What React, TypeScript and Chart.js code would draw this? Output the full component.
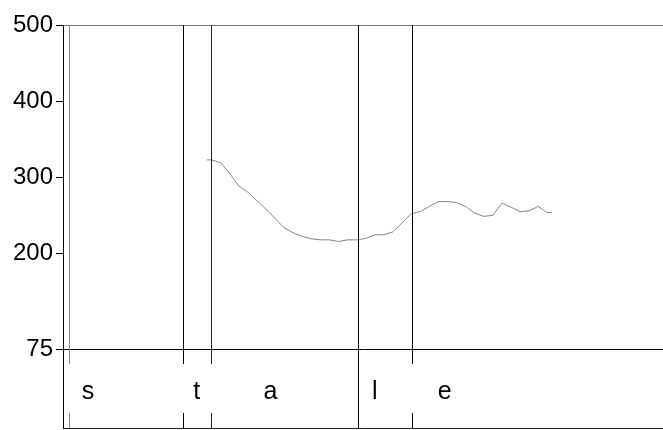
import React, { useEffect, useRef } from 'react';
import { Chart, registerables } from 'chart.js';

Chart.register(...registerables);

// x: period index (one step per observation)
const periods = [
  -0.5, 0, 1, 2, 3, 4, 5, 6, 7, 8, 9, 10, 11, 12, 13, 14, 15, 16, 17, 18, 19,
  20, 21, 22, 23, 24, 25, 26, 27, 28, 29, 30, 31, 32, 33, 34, 35, 36, 37, 37.5,
];
const values = [
  323, 323, 319.5, 305.6, 289, 280.7, 269.6, 258.5, 246.4, 234, 227.4, 222.8,
  219.5, 218.2, 218.2, 216, 218.2, 218.2, 220, 224.8, 224.8, 228.7, 240.5,
  252.3, 255.3, 261.9, 268.4, 268.4, 267.1, 261.9, 253.3, 249, 250.3, 266.3,
  261.1, 255.3, 256.2, 262.1, 254, 254,
];
const yTickValues = [500, 400, 300, 200, 75];
const yMin = 75;
const yMax = 500;
const xMin = -16.36;
const xMax = 49.76;

// phase boundaries and phase labels
const eventPositions = [-15.7, -3.13, 0, 16.16, 22.1];
const phaseLabels = ['s', 't', 'a', 'l', 'e'];
const phaseLabelPositions = [-13.6, -1.62, 6.5, 18.0, 25.7];

// styling
const eventColors = ['#8a8a8a', '#000000', '#222222', '#000000', '#000000'];
const eventContinuous = [false, false, false, true, false];
const bandGapLow = 0.19;
const bandGapHigh = 0.81;
const labelBaseline = 0.37;
const FONT = "'Liberation Sans', Arial, Helvetica, sans-serif";

const phasePlugin = {
  id: 'phases',
  afterDatasetsDraw(chart: any) {
    const { ctx, chartArea } = chart;
    const x = chart.scales.x;
    const yb = chart.scales.yb;
    ctx.save();
    ctx.lineWidth = 1;
    eventPositions.forEach((pos, i) => {
      const px = Math.round(x.getPixelForValue(pos)) + 0.5;
      ctx.strokeStyle = eventColors[i];
      ctx.beginPath();
      ctx.moveTo(px, chartArea.top);
      if (eventContinuous[i]) {
        ctx.lineTo(px, yb.getPixelForValue(0));
      } else {
        ctx.lineTo(px, yb.getPixelForValue(bandGapHigh));
        ctx.moveTo(px, yb.getPixelForValue(bandGapLow));
        ctx.lineTo(px, yb.getPixelForValue(0));
      }
      ctx.stroke();
    });
    ctx.fillStyle = '#000';
    ctx.font = `25px ${FONT}`;
    ctx.textAlign = 'center';
    ctx.textBaseline = 'alphabetic';
    phaseLabels.forEach((lab, i) => {
      ctx.fillText(lab, x.getPixelForValue(phaseLabelPositions[i]), yb.getPixelForValue(labelBaseline));
    });
    ctx.restore();
  },
};

export default function App() {
  const ref = useRef<HTMLCanvasElement | null>(null);
  useEffect(() => {
    document.body.style.margin = '0';
    const canvas = ref.current!;
    const chart = new Chart(canvas, {
      type: 'line',
      data: {
        datasets: [
          {
            data: periods.map((p, i) => ({ x: p, y: values[i] })),
            borderColor: '#858585',
            borderWidth: 1,
            pointRadius: 0,
            tension: 0,
            fill: false,
            yAxisID: 'y',
          },
        ],
      },
      options: {
        responsive: false,
        animation: false,
        devicePixelRatio: 1,
        layout: { padding: { top: 25, left: 0, right: 0, bottom: 2 } },
        plugins: { legend: { display: false }, tooltip: { enabled: false } },
        scales: {
          x: {
            type: 'linear',
            min: xMin,
            max: xMax,
            ticks: { display: false },
            grid: { display: false, drawTicks: false },
            border: { display: true, color: '#222', width: 1 },
            afterFit: (s: any) => {
              s.height = 0;
              s.paddingLeft = 0;
              s.paddingRight = 0;
            },
          },
          yb: {
            type: 'linear',
            position: 'left',
            stack: 'panels',
            stackWeight: 79,
            min: 0,
            max: 1,
            ticks: { display: false },
            grid: { display: false, drawTicks: false },
            border: { display: true, color: '#000', width: 1 },
            afterFit: (s: any) => {
              s.width = 63;
              s.paddingTop = 0;
              s.paddingBottom = 0;
            },
          },
          y: {
            type: 'linear',
            position: 'left',
            stack: 'panels',
            stackWeight: 324,
            min: yMin,
            max: yMax,
            afterBuildTicks: (s: any) => {
              s.ticks = yTickValues.map((v) => ({ value: v }));
            },
            ticks: {
              color: '#000',
              padding: 3,
              font: { family: FONT, size: 24 },
              callback: (v: any) => String(v),
            },
            grid: {
              drawTicks: true,
              tickLength: 7,
              tickColor: '#000',
              color: (c: any) =>
                c.tick && c.tick.value === yMax
                  ? '#777'
                  : c.tick && c.tick.value === yMin
                  ? '#000'
                  : 'rgba(0,0,0,0)',
              lineWidth: 1,
            },
            border: { display: true, color: '#000', width: 1 },
            afterFit: (s: any) => {
              s.width = 63;
              s.paddingTop = 0;
              s.paddingBottom = 0;
            },
          },
        },
      },
      plugins: [phasePlugin],
    });
    return () => chart.destroy();
  }, []);
  return <canvas ref={ref} width={663} height={430} style={{ display: 'block' }} />;
}
